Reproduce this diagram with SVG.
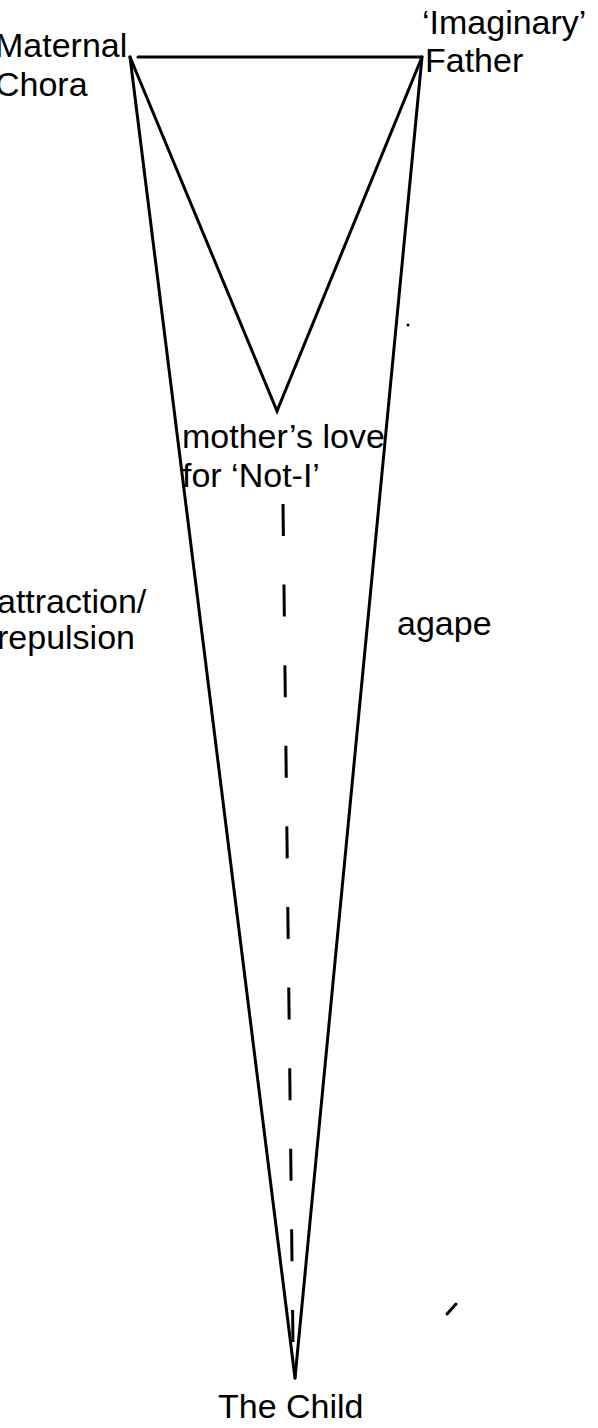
<svg xmlns="http://www.w3.org/2000/svg" width="598" height="1428" viewBox="0 0 598 1428">
<style>
.lbl{font-family:"Liberation Sans",Arial,sans-serif;font-size:34px;fill:#000}
.ln{stroke:#000;stroke-width:3;fill:none;stroke-linecap:round;stroke-linejoin:miter}
.dash{stroke:#000;stroke-width:3;fill:none;stroke-dasharray:32 48.6}
</style>
<rect width="598" height="1428" fill="#fff"/>
<g id="connectors">
<line class="ln" x1="138" y1="57" x2="421" y2="57"/>
<polyline class="ln" points="130,57 277,411 422,57"/>
<line class="ln" x1="130" y1="57" x2="295" y2="1378"/>
<line class="ln" x1="422" y1="57" x2="295" y2="1378"/>
<line class="dash" x1="283" y1="504" x2="293" y2="1345"/>
</g>
<g id="maternal-chora"><text class="lbl" x="-5" y="57">Maternal</text><text class="lbl" x="-5" y="96">Chora</text></g>
<g id="imaginary-father"><text class="lbl" x="422" y="34">‘Imaginary’</text><text class="lbl" x="425" y="72">Father</text></g>
<g id="mothers-love"><text class="lbl" x="182" y="448">mother’s love</text><text class="lbl" x="182" y="487">for ‘Not-I’</text></g>
<g id="attraction"><text class="lbl" x="-3" y="613">attraction/</text><text class="lbl" x="-3" y="649">repulsion</text></g>
<g id="agape"><text class="lbl" x="397" y="635">agape</text></g>
<g id="the-child"><text class="lbl" x="218" y="1418">The Child</text></g>
<g id="marks">
<circle cx="408" cy="325" r="1.5" fill="#000"/>
<line class="ln" x1="447" y1="1314" x2="456" y2="1304"/>
</g>
</svg>
